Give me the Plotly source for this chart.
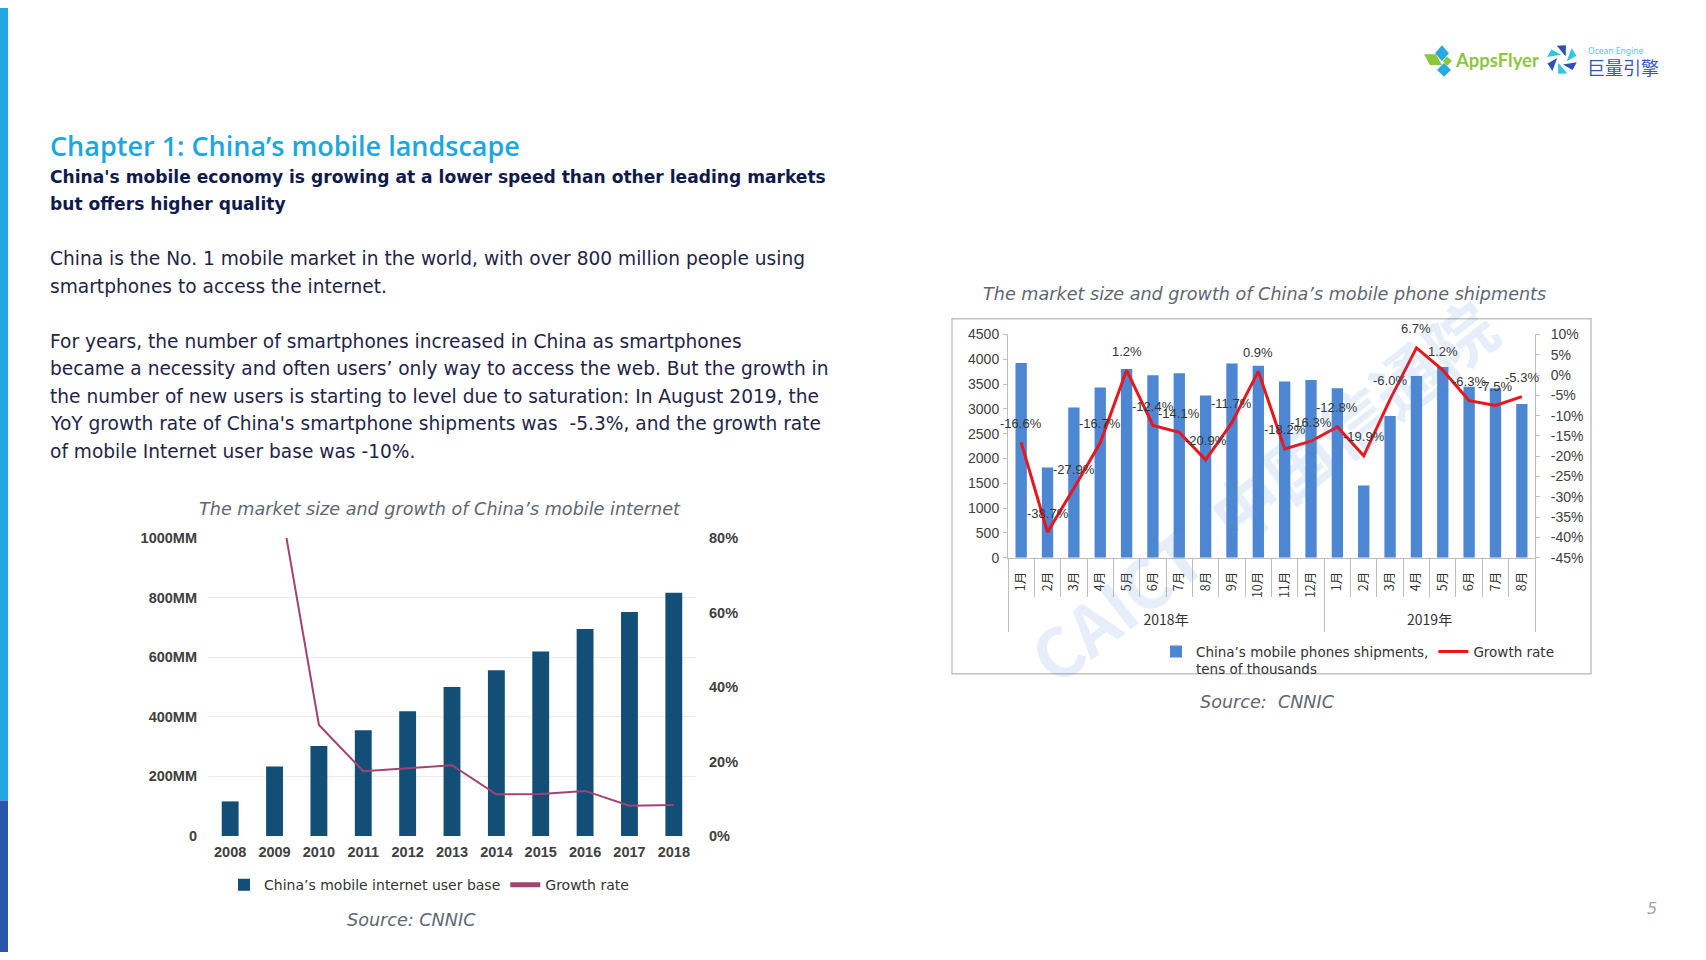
import math
import plotly.graph_objects as go

W, H = 1706, 960


def px(x):
    return x / W


def py(y):
    return 1 - y / H


# ---------------- data ----------------
# Left chart: China's mobile internet user base (millions) and growth rate (%)
years = ["2008", "2009", "2010", "2011", "2012", "2013", "2014", "2015", "2016", "2017", "2018"]
users_mm = [116, 233, 302, 355, 419, 500, 556, 619, 695, 752, 816]
users_growth = [None, 98.5, 29.8, 17.4, 18.1, 19.0, 11.2, 11.3, 12.1, 8.1, 8.3]
users_yticks = [0, 200, 400, 600, 800, 1000]
users_yticktext = ["0", "200MM", "400MM", "600MM", "800MM", "1000MM"]
users_gticks = [0, 20, 40, 60, 80]
users_gticktext = ["0%", "20%", "40%", "60%", "80%"]

# Right chart: China's mobile phone shipments (tens of thousands) and growth rate (%)
ship_years = ["2018年", "2019年"]
ship_year_months = [12, 8]
months = ["1月", "2月", "3月", "4月", "5月", "6月", "7月", "8月", "9月", "10月", "11月", "12月",
          "1月", "2月", "3月", "4月", "5月", "6月", "7月", "8月"]
shipments = [3923, 1819, 3027, 3431, 3803, 3677, 3717, 3272, 3916, 3869, 3551, 3584,
             3418, 1454, 2854, 3664, 3843, 3445, 3418, 3100]
ship_growth = [-16.6, -38.7, -27.9, -16.7, 1.2, -12.4, -14.1, -20.9, -11.7, 0.9, -18.2, -16.3,
               -12.8, -19.9, -6.0, 6.7, 1.2, -6.3, -7.5, -5.3]
ship_yticks = [0, 500, 1000, 1500, 2000, 2500, 3000, 3500, 4000, 4500]
ship_gticks = [10, 5, 0, -5, -10, -15, -20, -25, -30, -35, -40, -45]

# Slide text
title_text = "Chapter 1: China’s mobile landscape"
subtitle_lines = ["China's mobile economy is growing at a lower speed than other leading markets",
                  "but offers higher quality"]
para1_lines = ["China is the No. 1 mobile market in the world, with over 800 million people using",
               "smartphones to access the internet."]
para2_lines = ["For years, the number of smartphones increased in China as smartphones",
               "became a necessity and often users’ only way to access the web. But the growth in",
               "the number of new users is starting to level due to saturation: In August 2019, the",
               "YoY growth rate of China's smartphone shipments was  -5.3%, and the growth rate",
               "of mobile Internet user base was -10%."]
left_chart_title = "The market size and growth of China’s mobile internet"
right_chart_title = "The market size and growth of China’s mobile phone shipments"
left_source = "Source: CNNIC"
right_source = "Source:  CNNIC"

# ---------------- figure ----------------
x_idx = list(range(len(months)))
boundaries = [i + 0.5 for i in range(len(months) - 1)]
group_edges = [-0.5]
for n in ship_year_months:
    group_edges.append(group_edges[-1] + n)
group_centers = [(group_edges[i] + group_edges[i + 1]) / 2 for i in range(len(ship_years))]

fig = go.Figure()

fig.add_trace(go.Bar(
    x=years, y=users_mm, name="China’s mobile internet user base",
    marker=dict(color="#134e77", line=dict(width=0)), width=0.38,
    xaxis="x", yaxis="y", legend="legend"))
fig.add_trace(go.Scatter(
    x=years, y=users_growth, name="Growth rate", mode="lines",
    line=dict(color="#a4436f", width=2), xaxis="x", yaxis="y2", legend="legend"))

fig.add_trace(go.Bar(
    x=x_idx, y=shipments, name="China’s mobile phones shipments,<br>tens of thousands",
    marker=dict(color="#4d87d3", line=dict(width=0)), width=0.43,
    xaxis="x2", yaxis="y3", legend="legend2"))
fig.add_trace(go.Scatter(
    x=x_idx, y=ship_growth, name="Growth rate", mode="lines",
    line=dict(color="#e8161d", width=3), xaxis="x3", yaxis="y4", legend="legend2"))

annotations = []

label_font = dict(family="Liberation Sans", size=13, color="#333333")
for i, v in enumerate(ship_growth):
    annotations.append(dict(x=x_idx[i], y=v, xref="x3", yref="y4", text=f"{v:.1f}%",
                            showarrow=False, yshift=19, font=label_font))


def txt(x, y, text, size, color, family="DejaVu Sans", weight="normal", style="normal",
        xanchor="left", angle=0):
    annotations.append(dict(x=px(x), y=py(y), xref="paper", yref="paper", text=text,
                            showarrow=False, xanchor=xanchor, yanchor="middle", textangle=angle,
                            font=dict(family=family, size=size, color=color, weight=weight,
                                      style=style)))


txt(48, 140, title_text, 27, "#1ba7df", family="Open Sans", weight=600)
for i, line in enumerate(subtitle_lines):
    txt(48, 172 + 27 * i, line, 17.1, "#0f1a4a", weight="bold")
for i, line in enumerate(para1_lines):
    txt(48, 255 + 28 * i, line, 18.6, "#1f2547")
for i, line in enumerate(para2_lines):
    txt(48, 339 + 28 * i, line, 18.6, "#1f2547")

txt(440, 509, left_chart_title, 17.6, "#5f6672", style="italic", xanchor="center")
txt(1264, 291, right_chart_title, 17.6, "#5f6672", style="italic", xanchor="center")
txt(411, 927, left_source, 17.6, "#5f6672", style="italic", xanchor="center")
txt(1267, 706, right_source, 17.6, "#5f6672", style="italic", xanchor="center")
txt(1652, 916, "5", 16, "#9aa6b6", style="italic", xanchor="center")

# logos text
txt(1453, 53, "AppsFlyer", 18.5, "#8cc63f", family="Lato", weight="bold")
txt(1586, 43, "Ocean Engine", 8.5, "#3fd2ea", family="Noto Sans")
txt(1585, 60, "巨量引擎", 18, "#3456c0", family="Noto Sans CJK SC")

# watermark
annotations.append(dict(x=px(1262), y=py(490), xref="paper", yref="paper",
                        xanchor="center", yanchor="middle",
                        text="CAICT  中国信通院", showarrow=False, textangle=-38,
                        font=dict(family="Noto Sans CJK SC", size=68, color="rgba(80,140,215,0.14)",
                                  weight="bold")))


def path(points):
    return "M" + " L".join(f"{px(a):.5f},{py(b):.5f}" for a, b in points) + " Z"


shapes = [
    dict(type="rect", xref="paper", yref="paper", x0=0, x1=px(8), y0=py(806), y1=1,
         fillcolor="#22a7e0", line=dict(width=0), layer="below"),
    dict(type="rect", xref="paper", yref="paper", x0=0, x1=px(8), y0=0, y1=py(806),
         fillcolor="#2b55ad", line=dict(width=0), layer="below"),
    dict(type="rect", xref="paper", yref="paper", x0=px(952), x1=px(1591), y0=py(677), y1=py(316),
         fillcolor="rgba(0,0,0,0)", line=dict(color="#c2c2c2", width=1.5), layer="below"),
    # AppsFlyer icon
    dict(type="path", xref="paper", yref="paper", path=path([(1442, 38), (1449, 46), (1442, 54), (1435, 46)]),
         fillcolor="#27a9e1", line=dict(width=0)),
    dict(type="path", xref="paper", yref="paper", path=path([(1424, 47), (1436, 47), (1442, 58), (1430, 58)]),
         fillcolor="#8cc63f", line=dict(width=0)),
    dict(type="path", xref="paper", yref="paper", path=path([(1444, 56), (1451, 63), (1444, 70), (1437, 63)]),
         fillcolor="#27a9e1", line=dict(width=0)),
    dict(type="path", xref="paper", yref="paper", path=path([(1447, 49), (1452, 54), (1447, 59), (1443, 54)]),
         fillcolor="#8cc63f", line=dict(width=0)),
]
# Ocean Engine pinwheel icon
cx, cy, r = 1562, 52.5, 15
for k in range(6):
    a0 = math.radians(k * 60 + 10)
    a1 = math.radians(k * 60 + 45)
    pts = [(cx + 5 * math.cos(a0 + 1.2), cy + 5 * math.sin(a0 + 1.2)),
           (cx + r * math.cos(a0), cy + r * math.sin(a0)),
           (cx + r * math.cos(a1), cy + r * math.sin(a1))]
    shapes.append(dict(type="path", xref="paper", yref="paper", path=path(pts),
                       fillcolor="#2d4fb8" if k % 2 == 0 else "#2ec5e6", line=dict(width=0)))

axis_gray = "#bfbfbf"
tick_font_bold = dict(family="Liberation Sans", size=14.5, color="#404040", weight="bold")
ship_tick_font = dict(family="Liberation Sans", size=14, color="#404040")

fig.update_layout(
    width=W, height=H, margin=dict(l=0, r=0, t=0, b=0),
    paper_bgcolor="white", plot_bgcolor="rgba(0,0,0,0)",
    showlegend=True,
    annotations=annotations, shapes=shapes,
    xaxis=dict(domain=[px(208), px(696)], anchor="y", type="category",
               tickfont=tick_font_bold, showline=False, showgrid=False, ticks="",
               ticklabelstandoff=6),
    yaxis=dict(domain=[py(842), py(539)], anchor="x", range=[0, 1000],
               tickmode="array", tickvals=users_yticks, ticktext=users_yticktext,
               tickfont=tick_font_bold, showgrid=True, gridcolor="#ebebeb", gridwidth=1,
               zeroline=False, showline=False, ticks="", ticklabelstandoff=10),
    yaxis2=dict(overlaying="y", side="right", anchor="x", range=[0, 80],
                tickmode="array", tickvals=users_gticks, ticktext=users_gticktext,
                tickfont=tick_font_bold, showgrid=False, zeroline=False, showline=False,
                ticks="", ticklabelstandoff=12),
    xaxis2=dict(domain=[px(1008), px(1535)], anchor="y3", range=[-0.5, len(months) - 0.5],
                tickmode="array", tickvals=x_idx, ticktext=months, tickangle=-90,
                tickfont=dict(family="Noto Sans CJK SC", size=12.5, color="#333333"),
                showline=True, linecolor=axis_gray, linewidth=1, showgrid=False, zeroline=False,
                ticks="", ticklabelstandoff=8,
                minor=dict(tickmode="array", tickvals=boundaries, ticks="outside", ticklen=38,
                           tickcolor=axis_gray, tickwidth=1, showgrid=False)),
    xaxis3=dict(overlaying="x2", anchor="y3", side="bottom", range=[-0.5, len(months) - 0.5],
                tickmode="array", tickvals=group_centers, ticktext=ship_years,
                tickfont=dict(family="Noto Sans CJK SC", size=14, color="#333333"),
                showline=False, showgrid=False, zeroline=False, ticks="", ticklabelstandoff=52,
                minor=dict(tickmode="array", tickvals=group_edges, ticks="outside", ticklen=73,
                           tickcolor=axis_gray, tickwidth=1, showgrid=False)),
    yaxis3=dict(domain=[py(559), py(332)], anchor="x2", range=[0, 4500],
                tickmode="array", tickvals=ship_yticks, tickfont=ship_tick_font,
                showline=True, linecolor=axis_gray, linewidth=1, ticks="outside", ticklen=4,
                tickcolor=axis_gray, showgrid=False, zeroline=False, ticklabelstandoff=1),
    yaxis4=dict(overlaying="y3", side="right", anchor="x2", range=[-45, 10],
                tickmode="array", tickvals=ship_gticks, ticktext=[f"{v}%" for v in ship_gticks],
                tickfont=ship_tick_font, showline=True, linecolor=axis_gray, linewidth=1,
                ticks="outside", ticklen=4, tickcolor=axis_gray, showgrid=False, zeroline=False,
                ticklabelstandoff=8),
    legend=dict(orientation="h", x=px(224), y=py(892), xanchor="left", yanchor="middle",
                font=dict(family="DejaVu Sans", size=14, color="#333333"),
                bgcolor="rgba(0,0,0,0)", itemsizing="constant"),
    legend2=dict(orientation="h", x=px(1156), y=py(639), xanchor="left", yanchor="top",
                 valign="top", font=dict(family="DejaVu Sans", size=13.5, color="#333333"),
                 bgcolor="rgba(0,0,0,0)", tracegroupgap=0),
)

fig.write_html("out.html", config={"displayModeBar": False},
               post_script="document.body.style.margin='0';")
